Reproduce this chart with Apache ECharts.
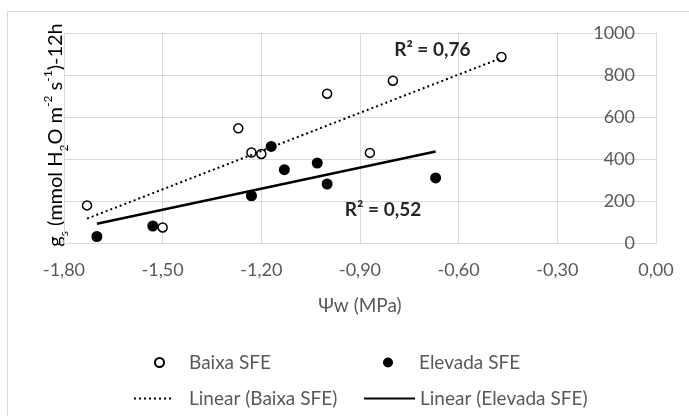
<!DOCTYPE html>
<html>
<head>
<meta charset="utf-8">
<script src="https://cdn.jsdelivr.net/npm/echarts@6/dist/echarts.min.js"></script>
<style>
  html, body { margin: 0; padding: 0; background: #fff; }
  #main { width: 689px; height: 416px; }
</style>
</head>
<body>
<div id="main"></div>
<script>
// values
const baixaX = [-1.73, -1.50, -1.27, -1.23, -1.20, -1.00, -0.87, -0.80, -0.47];
const baixaY = [179, 74, 546, 431, 424, 711, 429, 773, 886];
const elevadaX = [-1.70, -1.53, -1.23, -1.17, -1.13, -1.03, -1.00, -0.67];
const elevadaY = [31, 81, 225, 460, 349, 381, 281, 310];
// trend line end points
const baixaTrendX = [-1.73, -0.47];
const baixaTrendY = [116, 881];
const elevadaTrendX = [-1.70, -0.67];
const elevadaTrendY = [92, 436];
const r2Labels = ['R² = 0,76', 'R² = 0,52'];
const r2Pos = [[-0.68, 920], [-0.83, 159]];

const pairs = (xs, ys) => xs.map((x, i) => [x, ys[i]]);
const font = 'Lato, "Open Sans", sans-serif';
const grey = '#595959';

const chart = echarts.init(document.getElementById('main'));

const option = {
  animation: false,
  textStyle: { fontFamily: font },
  grid: { left: 64, right: 33, top: 33, bottom: 173 },
  xAxis: {
    type: 'value', min: -1.8, max: 0, interval: 0.3,
    name: 'Ψw (MPa)', nameLocation: 'middle', nameGap: 53,
    nameTextStyle: { color: grey, fontSize: 19, fontFamily: font },
    axisLine: { show: true, lineStyle: { color: '#d9d9d9' } },
    axisTick: { show: false },
    splitLine: { lineStyle: { color: '#d9d9d9' } },
    axisLabel: {
      color: grey, fontSize: 18, margin: 18,
      formatter: v => (Math.abs(v) < 1e-9 ? 0 : v).toFixed(2).replace('.', ',')
    }
  },
  yAxis: {
    type: 'value', min: 0, max: 1000, interval: 200, position: 'right',
    axisLine: { show: true, lineStyle: { color: '#d9d9d9' } },
    axisTick: { show: false },
    splitLine: { lineStyle: { color: '#d9d9d9' } },
    axisLabel: { inside: true, color: grey, fontSize: 18, margin: 21, formatter: v => String(v) }
  },
  legend: [
    { data: ['Baixa SFE'], left: 149, top: 348, itemWidth: 9, itemHeight: 9,
      textStyle: { color: grey, fontSize: 19, padding: [0, 0, 0, 20] } },
    { data: ['Elevada SFE'], left: 378, top: 348, itemWidth: 10, itemHeight: 10,
      textStyle: { color: grey, fontSize: 19, padding: [0, 0, 0, 21] } },
    { data: ['Linear (Baixa SFE)'], left: 128, top: 384, itemWidth: 40, itemHeight: 10,
      itemStyle: { opacity: 0 },
      textStyle: { color: grey, fontSize: 19, padding: [0, 0, 0, 10] } },
    { data: ['Linear (Elevada SFE)'], left: 358, top: 384, itemWidth: 51, itemHeight: 10,
      itemStyle: { opacity: 0 },
      textStyle: { color: grey, fontSize: 19 } }
  ],
  graphic: [
    {
      type: 'rect', silent: true, z: -10,
      shape: { x: 7.5, y: 11.5, width: 720, height: 440 },
      style: { fill: 'none', stroke: '#d9d9d9', lineWidth: 1 }
    },
    {
      type: 'text', x: 56, y: 135, rotation: Math.PI / 2, silent: true,
      style: {
        text: '{a|g}{s|s}{a| (mmol H}{s|2}{a|O m}{p|-2}{a| s}{p|-1}{a|)-12h}',
        align: 'center', verticalAlign: 'middle',
        rich: {
          a: { fontSize: 20, color: grey, fontFamily: font, lineHeight: 28, verticalAlign: 'middle' },
          s: { fontSize: 12, color: grey, fontFamily: font, lineHeight: 28, verticalAlign: 'bottom' },
          p: { fontSize: 12, color: grey, fontFamily: font, lineHeight: 28, verticalAlign: 'top' }
        }
      }
    }
  ],
  series: [
    {
      name: 'Baixa SFE', type: 'scatter', data: pairs(baixaX, baixaY),
      symbol: 'circle', symbolSize: 9,
      itemStyle: { color: '#fff', borderColor: '#000', borderWidth: 1.5, opacity: 1 }
    },
    {
      name: 'Elevada SFE', type: 'scatter', data: pairs(elevadaX, elevadaY),
      symbol: 'circle', symbolSize: 11,
      itemStyle: { color: '#000', opacity: 1 }
    },
    {
      name: 'Linear (Baixa SFE)', type: 'line', data: pairs(baixaTrendX, baixaTrendY),
      symbol: 'none', z: 5,
      lineStyle: { color: '#000', width: 2, type: [2, 3] },
      itemStyle: { color: '#000' },
      markPoint: {
        symbol: 'circle', symbolSize: 0,
        label: { show: true, position: 'inside', color: '#262626', fontWeight: 'bold', fontSize: 19, fontFamily: font, formatter: r2Labels[0] },
        data: [{ coord: r2Pos[0] }]
      }
    },
    {
      name: 'Linear (Elevada SFE)', type: 'line', data: pairs(elevadaTrendX, elevadaTrendY),
      symbol: 'none', z: 5,
      lineStyle: { color: '#000', width: 2.5 },
      itemStyle: { color: '#000' },
      markPoint: {
        symbol: 'circle', symbolSize: 0,
        label: { show: true, position: 'inside', color: '#262626', fontWeight: 'bold', fontSize: 19, fontFamily: font, formatter: r2Labels[1] },
        data: [{ coord: r2Pos[1] }]
      }
    }
  ]
};

chart.setOption(option);
</script>
</body>
</html>
